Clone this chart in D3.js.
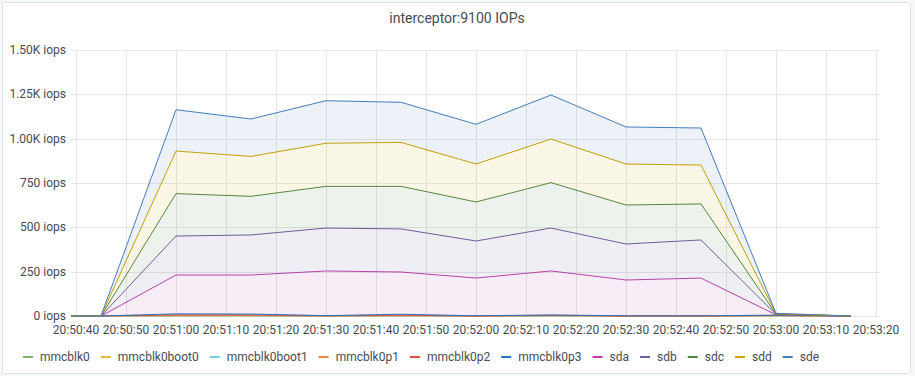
<!DOCTYPE html>
<html>
<head>
<meta charset="utf-8">
<script src="https://cdn.jsdelivr.net/npm/d3@7/dist/d3.min.js"></script>
<style>
  html, body { margin: 0; padding: 0; background: #f7f8fa; }
  svg { display: block; font-family: Roboto, "Noto Sans", sans-serif; }
</style>
</head>
<body>
<div id="chart"></div>
<script>
/* Stacked IOPs per device, 15s samples. */
var times = ["20:50:30", "20:50:45", "20:51:00", "20:51:15", "20:51:30", "20:51:45",
             "20:52:00", "20:52:15", "20:52:30", "20:52:45", "20:53:00", "20:53:15"];

var mmcblk0      = [0, 0, 1, 1, 0, 1, 0, 1, 0, 0, 1, 0];
var mmcblk0boot0 = [0, 0, 0, 0, 0, 0, 0, 0, 0, 0, 0, 0];
var mmcblk0boot1 = [0, 0, 0, 0, 0, 0, 0, 0, 0, 0, 0, 0];
var mmcblk0p1    = [0, 0, 1, 1, 0, 1, 0, 1, 0, 0, 1, 0];
var mmcblk0p2    = [0, 0, 5, 5, 1, 3, 0, 2, 0, 0, 1, 0];
var mmcblk0p3    = [0, 0, 5, 4, 1, 5, 1, 2, 1, 1, 2, 0];
var sda          = [0, 0, 219, 220, 252, 238, 213, 248, 202, 213, 2, 0];
var sdb          = [0, 0, 220, 226, 242, 243, 209, 242, 203, 215, 2, 0];
var sdc          = [0, 0, 239, 218, 235, 240, 220, 256, 220, 203, 2, 0];
var sdd          = [0, 0, 240, 225, 243, 248, 214, 246, 231, 219, 2, 0];
var sde          = [0, 0, 233, 211, 240, 226, 224, 248, 209, 209, 2, 0];

var seriesNames = ["mmcblk0", "mmcblk0boot0", "mmcblk0boot1", "mmcblk0p1", "mmcblk0p2",
                   "mmcblk0p3", "sda", "sdb", "sdc", "sdd", "sde"];
var seriesValues = [mmcblk0, mmcblk0boot0, mmcblk0boot1, mmcblk0p1, mmcblk0p2,
                    mmcblk0p3, sda, sdb, sdc, sdd, sde];
var seriesColors = ["#7EB26D", "#EAB839", "#6ED0E0", "#EF843C", "#E24D42",
                    "#1F78C1", "#BA43A9", "#705DA0", "#508642", "#CCA300", "#447EBC"];

var yTicks = [0, 250, 500, 750, 1000, 1250, 1500];

var W = 915, H = 376;
var parse = d3.timeParse("%H:%M:%S");
var dates = times.map(parse);

var svg = d3.select("#chart").append("svg")
  .attr("width", W).attr("height", H);

/* Panel */
svg.append("rect")
  .attr("x", 2.5).attr("y", 2.5)
  .attr("width", 908).attr("height", 371)
  .attr("rx", 3)
  .attr("fill", "#fff")
  .attr("stroke", "#dde1e6");

svg.append("text")
  .attr("x", 457).attr("y", 23)
  .attr("text-anchor", "middle")
  .attr("fill", "#464c54")
  .attr("font-size", 14)
  .text("interceptor:9100 IOPs");

var plotL = 71, plotR = 880, plotT = 50, plotB = 316;

var x = d3.scaleTime()
  .domain([parse("20:50:39"), d3.timeMillisecond.offset(parse("20:53:20"), 800)])
  .range([plotL, plotR]);
var y = d3.scaleLinear().domain([0, 1500]).range([plotB, plotT]);

function fmtY(v) {
  return v >= 1000 ? (v / 1000).toFixed(2) + "K iops" : v + " iops";
}

/* Grid */
var xTicks = d3.timeSecond.every(10).range(parse("20:50:40"), parse("20:53:21"));
var grid = svg.append("g").attr("stroke", "#e6e6e6").attr("stroke-width", 1);
xTicks.forEach(function (t) {
  var px = Math.round(x(t)) + 0.5;
  grid.append("line").attr("x1", px).attr("x2", px).attr("y1", plotT).attr("y2", plotB);
});
yTicks.forEach(function (v) {
  var py = Math.round(y(v)) + 0.5;
  grid.append("line").attr("x1", plotL).attr("x2", plotR).attr("y1", py).attr("y2", py);
});

/* Axis labels */
var tf = d3.timeFormat("%H:%M:%S");
xTicks.forEach(function (t) {
  svg.append("text")
    .attr("x", x(t)).attr("y", 334)
    .attr("text-anchor", "middle")
    .attr("fill", "#464c54")
    .attr("font-size", 12)
    .text(tf(t));
});
yTicks.forEach(function (v) {
  svg.append("text")
    .attr("x", 66).attr("y", y(v) + 4)
    .attr("text-anchor", "end")
    .attr("fill", "#464c54")
    .attr("font-size", 12)
    .text(fmtY(v));
});

/* Stack */
var rows = dates.map(function (d, i) {
  var r = { t: d };
  seriesNames.forEach(function (n, k) { r[n] = seriesValues[k][i]; });
  return r;
});
var stacked = d3.stack().keys(seriesNames)(rows);

svg.append("clipPath").attr("id", "plotclip")
  .append("rect").attr("x", plotL).attr("y", plotT)
  .attr("width", plotR - plotL).attr("height", plotB - plotT + 2);

var plot = svg.append("g").attr("clip-path", "url(#plotclip)");
var area = d3.area()
  .x(function (d) { return x(d.data.t); })
  .y0(function (d) { return y(d[0]); })
  .y1(function (d) { return y(d[1]); });
var line = d3.line()
  .x(function (d) { return x(d.data.t); })
  .y(function (d) { return y(d[1]); });

stacked.forEach(function (s, k) {
  plot.append("path").attr("d", area(s))
    .attr("fill", seriesColors[k]).attr("fill-opacity", 0.1);
  plot.append("path").attr("d", line(s))
    .attr("fill", "none").attr("stroke", seriesColors[k]).attr("stroke-width", 1);
});

/* Legend */
var lx = 23, ly = 357;
var legend = svg.append("g");
seriesNames.forEach(function (n, k) {
  legend.append("line")
    .attr("x1", lx).attr("x2", lx + 10)
    .attr("y1", ly).attr("y2", ly)
    .attr("stroke", seriesColors[k]).attr("stroke-width", 2);
  var t = legend.append("text")
    .attr("x", lx + 17).attr("y", ly + 4)
    .attr("fill", "#464c54")
    .attr("font-size", 12)
    .text(n);
  lx += 17 + t.node().getComputedTextLength() + 11;
});
</script>
</body>
</html>
